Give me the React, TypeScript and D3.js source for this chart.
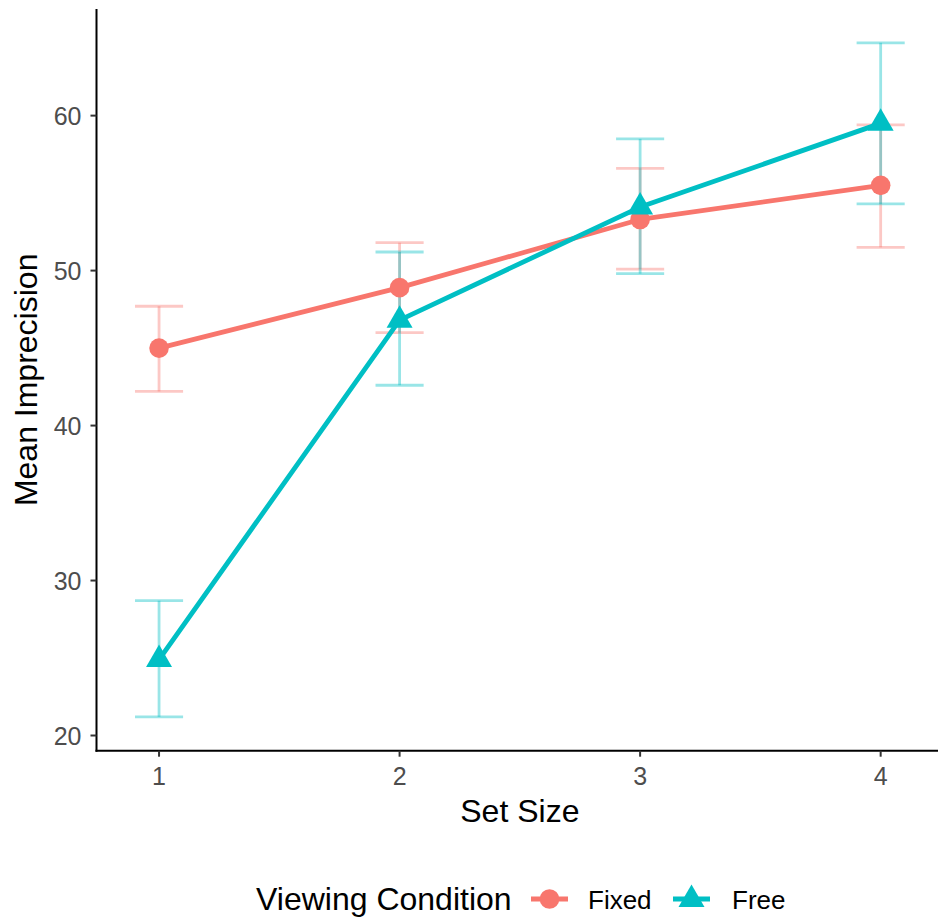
import React from "react";
import * as d3 from "d3";

// Set sizes on the x axis
const setSizes = [1, 2, 3, 4];

// Mean imprecision per set size, with lower / upper error limits
const fixedMean = [45.0, 48.9, 53.3, 55.5];
const fixedLower = [42.2, 46.0, 50.1, 51.5];
const fixedUpper = [47.7, 51.8, 56.6, 59.4];

const freeMean = [24.9, 46.8, 54.1, 59.5];
const freeLower = [21.2, 42.6, 49.8, 54.3];
const freeUpper = [28.7, 51.2, 58.5, 64.7];

const yTicks = [20, 30, 40, 50, 60];
const conditionNames = ["Fixed", "Free"];
const conditionColors = ["#F8766D", "#00BFC4"];

const W = 938;
const H = 923;
const panel = { left: 96.5, right: 943.2, top: 9, bottom: 750.7 };

const FONT = "'Liberation Sans', Arial, Helvetica, sans-serif";

type Row = { x: number; mean: number; lo: number; hi: number };

const series: { name: string; color: string; rows: Row[] }[] = [
  {
    name: conditionNames[0],
    color: conditionColors[0],
    rows: setSizes.map((x, i) => ({ x, mean: fixedMean[i], lo: fixedLower[i], hi: fixedUpper[i] })),
  },
  {
    name: conditionNames[1],
    color: conditionColors[1],
    rows: setSizes.map((x, i) => ({ x, mean: freeMean[i], lo: freeLower[i], hi: freeUpper[i] })),
  },
];

const CIRCLE_R = 9.8;
const TRI_R = 15;

function trianglePath(cx: number, cy: number, r: number) {
  const xc = (r * Math.sqrt(3)) / 2;
  const yc = r / 2;
  return `M${cx},${cy - r}L${cx + xc},${cy + yc}L${cx - xc},${cy + yc}Z`;
}

function Marker({ kind, cx, cy, color }: { kind: number; cx: number; cy: number; color: string }) {
  if (kind === 0) return <circle cx={cx} cy={cy} r={CIRCLE_R} fill={color} />;
  return <path d={trianglePath(cx, cy, TRI_R)} fill={color} />;
}

export default function App() {
  const x = d3.scaleLinear().domain([0.74, 4.26]).range([panel.left, panel.right]);
  const y = d3.scaleLinear().domain([19.02, 66.88]).range([panel.bottom, panel.top]);

  const line = d3
    .line<Row>()
    .x((d) => x(d.x))
    .y((d) => y(d.mean));

  const capHalf = x(1.1) - x(1);

  // legend layout
  const legendY = 899;
  const legendTitleX = 256;
  const keys = [
    { keyStart: 531, textX: 588 },
    { keyStart: 673, textX: 732 },
  ];
  const keyW = 37;

  return (
    <svg
      width={W}
      height={H}
      style={{ position: "absolute", left: 0, top: 0, background: "#fff" }}
      fontFamily={FONT}
    >
      <rect x={0} y={0} width={W} height={H} fill="#fff" />

      {/* error bars */}
      {series.map((s) => (
        <g key={`eb-${s.name}`} stroke={s.color} strokeOpacity={0.4} strokeWidth={2.8} fill="none">
          {s.rows.map((d) => (
            <g key={d.x}>
              <line x1={x(d.x)} x2={x(d.x)} y1={y(d.lo)} y2={y(d.hi)} />
              <line x1={x(d.x) - capHalf} x2={x(d.x) + capHalf} y1={y(d.lo)} y2={y(d.lo)} />
              <line x1={x(d.x) - capHalf} x2={x(d.x) + capHalf} y1={y(d.hi)} y2={y(d.hi)} />
            </g>
          ))}
        </g>
      ))}

      {/* mean lines */}
      {series.map((s) => (
        <path
          key={`ln-${s.name}`}
          d={line(s.rows) ?? ""}
          fill="none"
          stroke={s.color}
          strokeWidth={4.8}
          strokeLinejoin="round"
        />
      ))}

      {/* points */}
      {series.map((s, si) => (
        <g key={`pt-${s.name}`}>
          {s.rows.map((d) => (
            <Marker key={d.x} kind={si} cx={x(d.x)} cy={y(d.mean)} color={s.color} />
          ))}
        </g>
      ))}

      {/* axes */}
      <line x1={panel.left} x2={panel.left} y1={panel.top} y2={panel.bottom + 1} stroke="#000" strokeWidth={2} />
      <line x1={panel.left - 1} x2={W} y1={panel.bottom} y2={panel.bottom} stroke="#000" strokeWidth={2} />

      {yTicks.map((t) => (
        <g key={`yt-${t}`}>
          <line x1={panel.left - 6} x2={panel.left} y1={y(t)} y2={y(t)} stroke="#333" strokeWidth={2} />
          <text x={panel.left - 15} y={y(t)} dy="0.36em" textAnchor="end" fontSize={25} fill="#4D4D4D">
            {t}
          </text>
        </g>
      ))}

      {setSizes.map((t) => (
        <g key={`xt-${t}`}>
          <line x1={x(t)} x2={x(t)} y1={panel.bottom} y2={panel.bottom + 6} stroke="#333" strokeWidth={2} />
          <text x={x(t)} y={785} textAnchor="middle" fontSize={25} fill="#4D4D4D">
            {t}
          </text>
        </g>
      ))}

      <text x={(panel.left + panel.right) / 2} y={821.5} textAnchor="middle" fontSize={32} fill="#000">
        Set Size
      </text>
      <text
        transform={`translate(37,${(panel.top + panel.bottom) / 2}) rotate(-90)`}
        textAnchor="middle"
        fontSize={32}
        fill="#000"
      >
        Mean Imprecision
      </text>

      {/* legend */}
      <text x={legendTitleX} y={910} fontSize={32} fill="#000">
        Viewing Condition
      </text>
      {series.map((s, si) => (
        <g key={`lg-${s.name}`}>
          <line
            x1={keys[si].keyStart}
            x2={keys[si].keyStart + keyW}
            y1={legendY}
            y2={legendY}
            stroke={s.color}
            strokeWidth={4.8}
          />
          <Marker kind={si} cx={keys[si].keyStart + keyW / 2} cy={si === 0 ? legendY : legendY + 0.5} color={s.color} />
          <text x={keys[si].textX} y={909} fontSize={26} fill="#000">
            {s.name}
          </text>
        </g>
      ))}
    </svg>
  );
}
